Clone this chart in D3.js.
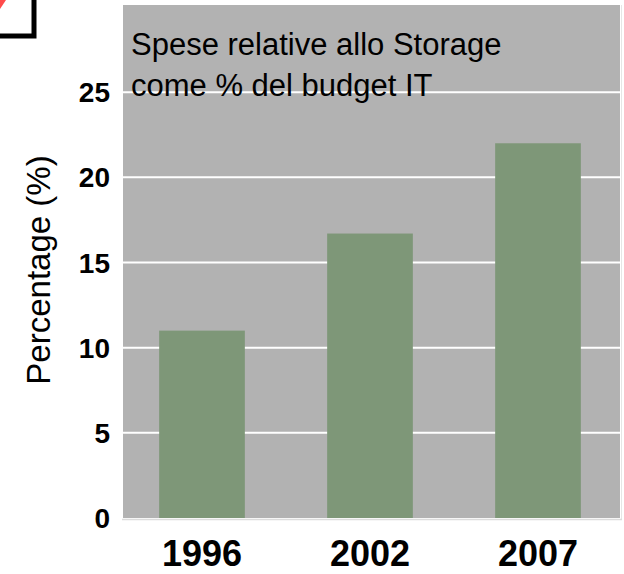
<!DOCTYPE html>
<html>
<head>
<meta charset="utf-8">
<script src="https://cdn.jsdelivr.net/npm/d3@7"></script>
<style>
  body { margin: 0; background: #fff; }
  text { font-family: "Liberation Sans", Arial, sans-serif; }
</style>
</head>
<body>
<div id="chart"></div>
<script>
const years = ["1996", "2002", "2007"];
const values = [11, 16.7, 22];
const yTicks = [0, 5, 10, 15, 20, 25];
const titleLines = ["Spese relative allo Storage", "come % del budget IT"];

const W = 624, H = 574;
const plot = {left: 123, right: 620, top: 5, bottom: 518};

const svg = d3.select("#chart").append("svg")
    .attr("width", W)
    .attr("height", H);

// bit of a framed logo cut off in the top-left corner
svg.append("rect")
    .attr("x", -20).attr("y", -20)
    .attr("width", 54).attr("height", 56)
    .attr("fill", "#fff")
    .attr("stroke", "#000")
    .attr("stroke-width", 5);
svg.append("path")
    .attr("d", "M0,0 L6,0 L0,9 Z")
    .attr("fill", "#ff4b4b");

const x = d3.scaleBand()
    .domain(years)
    .range([118, 622])
    .paddingInner(0.49)
    .paddingOuter(0.245);

const y = d3.scaleLinear()
    .domain([0, 30])
    .range([plot.bottom, 7]);

// plot background
svg.append("rect")
    .attr("x", plot.left).attr("y", plot.top)
    .attr("width", plot.right - plot.left)
    .attr("height", plot.bottom - plot.top)
    .attr("fill", "#b2b2b2");

svg.append("line")
    .attr("x1", plot.right + 1.5).attr("x2", plot.right + 1.5)
    .attr("y1", plot.top).attr("y2", plot.bottom + 2)
    .attr("stroke", "#e6e6e6").attr("stroke-width", 1);

// gridlines
svg.append("g")
    .selectAll("line")
    .data(yTicks.filter(d => d > 0))
    .join("line")
    .attr("x1", plot.left).attr("x2", plot.right)
    .attr("y1", d => y(d)).attr("y2", d => y(d))
    .attr("stroke", "#fff")
    .attr("stroke-width", 2);

// bars
svg.append("g")
    .selectAll("rect")
    .data(values)
    .join("rect")
    .attr("x", (d, i) => x(years[i]))
    .attr("y", d => y(d))
    .attr("width", x.bandwidth())
    .attr("height", d => y(0) - y(d))
    .attr("fill", "#7e9778");

// baseline
svg.append("line")
    .attr("x1", plot.left - 1).attr("x2", plot.right + 2)
    .attr("y1", plot.bottom + 1.5).attr("y2", plot.bottom + 1.5)
    .attr("stroke", "#dcdcdc").attr("stroke-width", 1.5);

// y axis labels
svg.append("g")
    .selectAll("text")
    .data(yTicks)
    .join("text")
    .attr("x", 110)
    .attr("y", d => y(d))
    .attr("dy", "0.36em")
    .attr("text-anchor", "end")
    .style("font-size", "28px")
    .style("font-weight", "bold")
    .text(d => d);

// x axis labels
svg.append("g")
    .selectAll("text")
    .data(years)
    .join("text")
    .attr("x", d => x(d) + x.bandwidth() / 2)
    .attr("y", 566)
    .attr("text-anchor", "middle")
    .style("font-size", "36px")
    .style("font-weight", "bold")
    .text(d => d);

// y title
svg.append("text")
    .attr("transform", "translate(50,270) rotate(-90)")
    .attr("text-anchor", "middle")
    .style("font-size", "33px")
    .text("Percentage (%)");

// title inside the plot
svg.append("text")
    .selectAll("tspan")
    .data(titleLines)
    .join("tspan")
    .attr("x", 131)
    .attr("y", (d, i) => 55 + i * 41)
    .style("font-size", "31px")
    .text(d => d);
</script>
</body>
</html>
